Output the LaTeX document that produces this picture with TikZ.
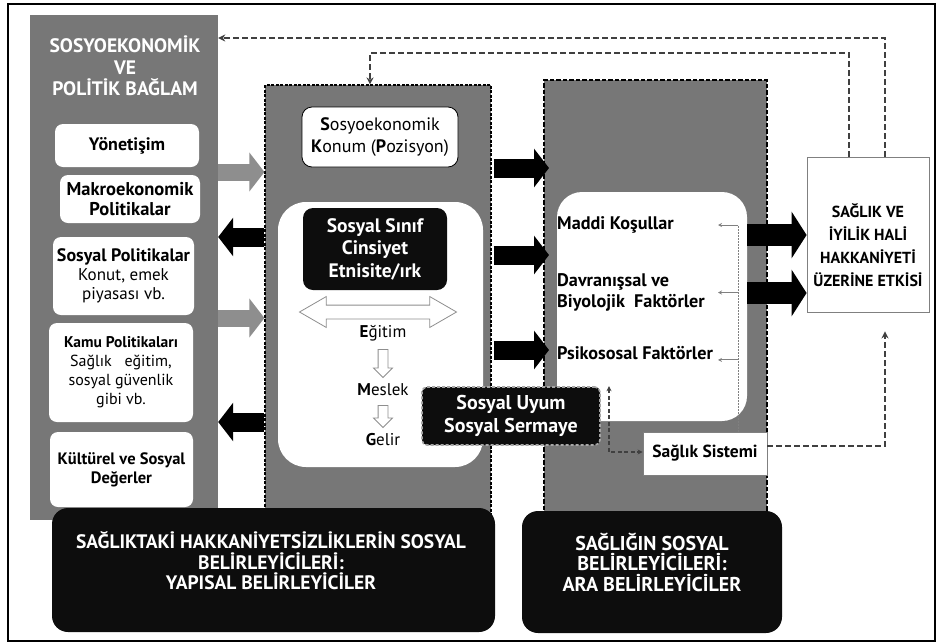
\documentclass[tikz,border=0pt]{standalone}
\usepackage{fontspec}
\setmainfont{PT Sans}
\usetikzlibrary{arrows.meta,shapes.arrows,positioning}

\definecolor{panelgri}{HTML}{777777}
\definecolor{okgri}{HTML}{8E8E8E}
\definecolor{kesikgri}{HTML}{404040}
\newcommand{\yazi}{\fontsize{16}{20}\selectfont}
\newcommand{\kalinyazi}{\fontsize{18.2}{21.5}\selectfont\bfseries}

\begin{document}
\begin{tikzpicture}[
	x=1pt, y=-1pt,                                   % piksel gibi: y aşağı doğru
	>=Stealth,
	every node/.style={inner sep=0pt, align=center, font=\yazi},
	boyut/.style 2 args={minimum width=#1pt, minimum height=#2pt},
	solpanel/.style={fill=panelgri},
	panelbir/.style={fill=panelgri, draw=black, line width=1.1pt, dash pattern=on 3pt off 1.5pt},
	paneliki/.style={fill=panelgri, draw=black, line width=2pt, dash pattern=on 4.5pt off 2pt},
	beyazkutu/.style={fill=white, rounded corners=8pt},
	ickutu/.style={fill=white, rounded corners=28pt},
	siyahkutu/.style={fill=black!95, text=white, font=\kalinyazi},
	kalin/.style={font=\kalinyazi},
	kalinok/.style={line width=19pt, -{Triangle[length=15pt 0, width=38pt 0]}},   % kalın blok ok
	griok/.style={kalinok, draw=okgri, line width=17pt},
	bosok/.style={draw=okgri, fill=white, line width=0.8pt},                        % içi boş oklar
	geribildirim/.style={draw=kesikgri, line width=2.4pt, dash pattern=on 6pt off 3pt,
		-{Stealth[length=7pt 0, width=7pt 0]}},
	kucukok/.style={draw=kesikgri, line width=1.4pt, dash pattern=on 4pt off 2.5pt,
		{Stealth[length=5pt 0, width=5pt 0]}-{Stealth[length=5pt 0, width=5pt 0]}},
	noktali/.style={draw=gray, line width=0.8pt, dash pattern=on 1.5pt off 1.5pt},
	ciziok/.style={draw=gray, line width=0.8pt, -{Stealth[length=4pt 0, width=4pt 0]}}
	]
	\useasboundingbox (0,0) rectangle (939,643);
	\draw[line width=2pt] (8,4) rectangle (935,641);

	% sol panel
	\node[solpanel, boyut={188}{505}] (sol) at (124,267.5) {};
	\node[text=white, font=\fontsize{19.5}{21.5}\selectfont\bfseries] (solbaslik) at (125,66)
		{SOSYOEKONOMİK\\VE\\POLİTİK BAĞLAM};
	\node[beyazkutu, boyut={144}{43}, font=\fontsize{18}{20}\selectfont\bfseries] (yon) at (127,145.5) {Yönetişim};
	\node[beyazkutu, boyut={140}{48}, font=\fontsize{18.5}{20}\selectfont\bfseries] (makro) at (130,199)
		{Makroekonomik\\Politikalar};
	\node[beyazkutu, boyut={141}{78}, font=\fontsize{17}{19}\selectfont] (sospol) at (123.5,276)
		{\textbf{\fontsize{18}{19}\selectfont Sosyal Politikalar}\\Konut, emek\\piyasası vb.};
	\node[beyazkutu, boyut={144}{99}, font=\fontsize{16}{19}\selectfont] (kamu) at (121,372.5)
		{\textbf{\fontsize{15.5}{19}\selectfont Kamu Politikaları}\\Sağlık\ \ \ eğitim,\\sosyal güvenlik\\gibi vb.};
	\node[beyazkutu, boyut={143}{75}, font=\fontsize{16.5}{19}\selectfont\bfseries] (kultur) at (121.5,469.5)
		{Kültürel ve Sosyal\\Değerler};

	% orta paneller
	\node[panelbir, boyut={226}{430}] (yapisal) at (378,300) {};
	\node[paneliki, boyut={223}{435}] (ara) at (655.5,297.5) {};

	\node[beyazkutu, draw=black, line width=0.8pt, rounded corners=10pt, boyut={156}{60},
		font=\fontsize{18}{22}\selectfont] (konum) at (380,137)
		{\textbf{S}osyoekonomik\\\textbf{K}onum (\textbf{P}ozisyon)};
	\node[ickutu, boyut={205}{265}] (ic1) at (380.5,334.5) {};
	\node[siyahkutu, rounded corners=10pt, boyut={144}{82}, font=\fontsize{19.5}{22.5}\selectfont\bfseries]
		(sinif) at (375,249) {Sosyal Sınıf\\Cinsiyet\\Etnisite/ırk};
	\node[double arrow, bosok, inner sep=6.5pt, double arrow head extend=8.5pt,
		double arrow tip angle=60, minimum height=157pt] (cift) at (378,312) {};
	\node[font=\fontsize{17}{20}\selectfont] (egitim) at (383,333) {\textbf{E}ğitim};
	\node[single arrow, bosok, inner sep=4.5pt, single arrow head extend=4.5pt,
		shape border rotate=270, minimum height=28pt] (ok1) at (383,361) {};
	\node[font=\fontsize{17}{20}\selectfont] (meslek) at (383,390) {\textbf{M}eslek};
	\node[single arrow, bosok, inner sep=4.5pt, single arrow head extend=4.5pt,
		shape border rotate=270, minimum height=22pt] (ok2) at (383,414) {};
	\node[font=\fontsize{17}{20}\selectfont] (gelir) at (383,440) {\textbf{G}elir};

	\node[ickutu, rounded corners=25pt, boyut={190}{229}] (ic2) at (652,306.5) {};
	\node[kalin, anchor=west, align=left] (maddi) at (557,225) {Maddi Koşullar};
	\node[kalin, anchor=west, align=left] (davran) at (557,292.5) {Davranışsal ve\\Biyolojik\ \ Faktörler};
	\node[kalin, anchor=west, align=left] (psiko) at (557,353) {Psikososal Faktörler};

	% sağ kutu
	\node[fill=white, draw=gray, line width=0.8pt, boyut={122}{155}] (etki) at (868,234.5) {};
	\node[font=\fontsize{16}{23}\selectfont\bfseries] (etkiyazi) at (868,245)
		{SAĞLIK VE\\İYİLİK HALİ\\HAKKANİYETİ\\ÜZERİNE ETKİSİ};

	% blok oklar
	\draw[griok] (sol.east |- 0,172) -- (yapisal.west |- 0,172);
	\draw[griok] (sol.east |- 0,318) -- (yapisal.west |- 0,318);
	\draw[kalinok] (yapisal.west |- 0,237) -- (sol.east |- 0,237);
	\draw[kalinok] (yapisal.west |- 0,422) -- (sol.east |- 0,422);
	\foreach \y in {168,255,350}
		\draw[kalinok, shorten >=-6pt] ([xshift=2pt]yapisal.east |- 0,\y) -- (ara.west |- 0,\y);
	\draw[kalinok, line width=22pt, -{Triangle[length=15pt 0, width=46pt 0]}] (ic2.east |- 0,235) -- (etki.west |- 0,235);
	\draw[kalinok, line width=22pt, -{Triangle[length=15pt 0, width=46pt 0]}] (ic2.east |- 0,293) -- (etki.west |- 0,293);

	% sağlık sistemi ve sosyal uyum
	\node[fill=white, draw=gray, line width=0.8pt, boyut={124}{43}, font=\fontsize{17.5}{20}\selectfont\bfseries]
		(sistem) at (705,453.5) {Sağlık Sistemi};
	\node[siyahkutu, draw=gray!70, line width=1.6pt, dash pattern=on 3pt off 2pt, rounded corners=5pt,
		boyut={178}{58}, font=\fontsize{20}{23}\selectfont\bfseries] (uyum) at (511,416) {Sosyal Uyum\\Sosyal Sermaye};

	\draw[noktali] (sistem.north -| 738,0) -- (maddi -| 738,0);
	\draw[ciziok] (maddi -| 738,0) -- (maddi -| 718,0);
	\draw[ciziok] (davran -| 738,0) -- (davran -| 718,0);
	\draw[ciziok] (psiko.south -| 738,0) -- (psiko.south -| 718,0);
	\draw[kucukok] (uyum.north -| 609,0) |- (sistem.west |- 0,452);

	% alt başlıklar
	\node[siyahkutu, rounded corners=16pt, boyut={443}{124}] (yapisalalt) at (273.5,570) {};
	\node[text=white, font=\fontsize{19.5}{20.5}\selectfont\bfseries] (yapisalyazi) at (271,561)
		{SAĞLIKTAKİ HAKKANİYETSİZLİKLERİN SOSYAL\\BELİRLEYİCİLERİ:\\YAPISAL BELİRLEYİCİLER};
	\node[siyahkutu, rounded corners=16pt, boyut={260}{122}] (araalt) at (652,572) {};
	\node[text=white, font=\fontsize{20}{20.5}\selectfont\bfseries] (arayazi) at (652,562)
		{SAĞLIĞIN SOSYAL\\BELİRLEYİCİLERİ:\\ARA BELİRLEYİCİLER};

	% geri bildirim çizgileri
	\draw[geribildirim] (etki.north -| 885,0) |- (sol.east |- 0,38);
	\draw[geribildirim] (etki.north -| 849,0) |- (370,53) -- (yapisal.north -| 370,0);
	\draw[geribildirim, shorten >=19pt] (sistem.east |- 0,446) -| (etki.south -| 885,0);
\end{tikzpicture}
\end{document}
